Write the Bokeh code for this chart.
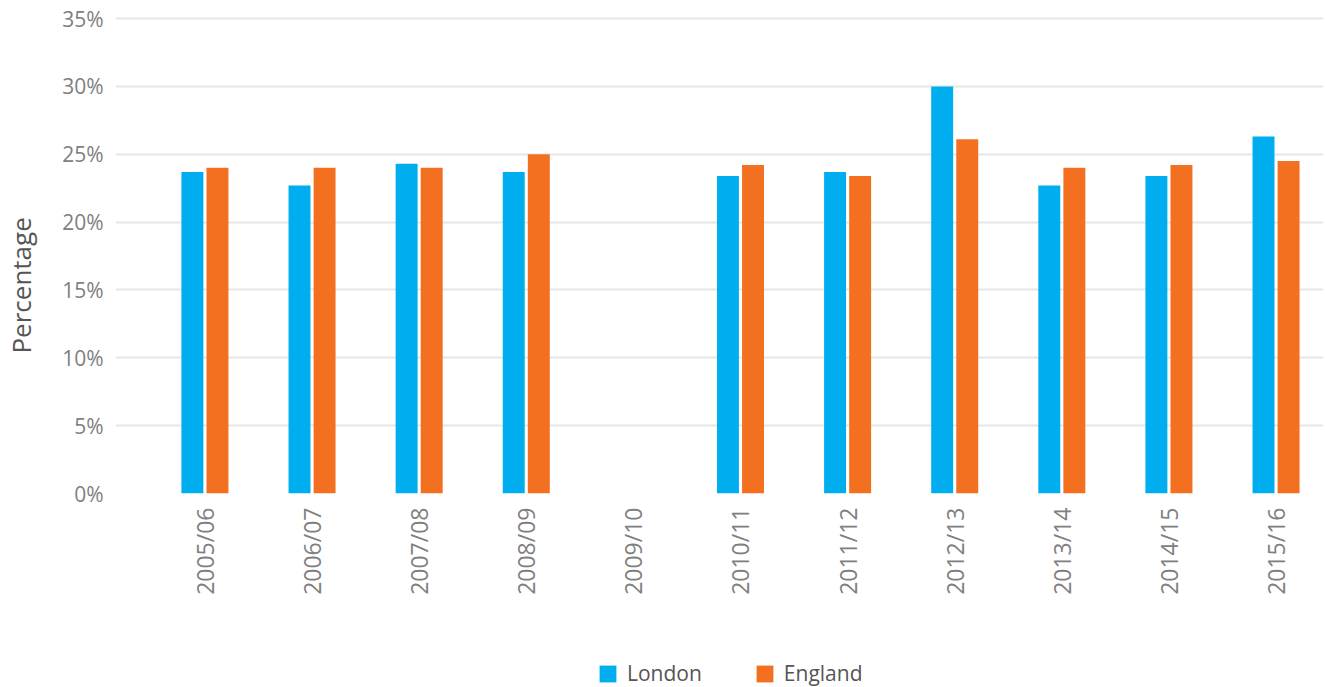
import math
from bokeh.plotting import figure
from bokeh.layouts import column
from bokeh.models import (Range1d, FixedTicker, PrintfTickFormatter, ColumnDataSource,
                          Legend, LegendItem)
from bokeh.transform import dodge
from bokeh.embed import file_html
from bokeh.resources import INLINE

years = ["2005/06", "2006/07", "2007/08", "2008/09", "2009/10", "2010/11",
         "2011/12", "2012/13", "2013/14", "2014/15", "2015/16"]
nan = float("nan")
london = [23.7, 22.7, 24.3, 23.7, nan, 23.4, 23.7, 30.0, 22.7, 23.4, 26.3]
england = [24.0, 24.0, 24.0, 25.0, nan, 24.2, 23.4, 26.1, 24.0, 24.2, 24.5]
y_ticks = [0, 5, 10, 15, 20, 25, 30, 35]
series_names = ["London", "England"]
series_fields = ["london", "england"]
series_colors = ["#00AEEF", "#F37021"]

FONT = "Open Sans"

src = ColumnDataSource(dict(x=list(range(len(years))), london=london, england=england))

p = figure(width=1325, height=640,
           x_range=Range1d(-0.835, 10.443), y_range=Range1d(0, 35.15),
           output_backend="svg", toolbar_location=None,
           min_border_left=114, min_border_right=2, min_border_top=16, min_border_bottom=147)
p.outline_line_color = None
p.background_fill_color = "white"
p.border_fill_color = "white"

offsets = [-0.117, 0.117]
for field, col, off in zip(series_fields, series_colors, offsets):
    p.vbar(x=dodge("x", off), top=field, width=0.205, source=src,
           fill_color=col, line_color=None)

# y axis
p.yaxis.ticker = FixedTicker(ticks=y_ticks)
p.yaxis.formatter = PrintfTickFormatter(format="%d%%")
p.yaxis.axis_label = "Percentage" + "\u00a0" * 9
p.yaxis.axis_label_text_font = FONT
p.yaxis.axis_label_text_font_size = "26px"
p.yaxis.axis_label_text_font_style = "normal"
p.yaxis.axis_label_text_color = "#555555"
p.yaxis.axis_label_standoff = 20
p.yaxis.major_label_text_font = FONT
p.yaxis.major_label_text_font_size = "21px"
p.yaxis.major_label_text_color = "#808080"
p.yaxis.major_label_standoff = 12

# x axis
p.xaxis.ticker = FixedTicker(ticks=list(range(len(years))))
p.xaxis.major_label_overrides = {i: y for i, y in enumerate(years)}
p.xaxis.major_label_orientation = math.pi / 2
p.xaxis.major_label_text_font = FONT
p.xaxis.major_label_text_font_size = "23px"
p.xaxis.major_label_text_color = "#808080"
p.xaxis.major_label_standoff = 14

for ax in (p.xaxis, p.yaxis):
    ax.axis_line_color = None
    ax.major_tick_line_color = None
    ax.minor_tick_line_color = None
    ax.major_tick_out = 0
    ax.major_tick_in = 0

p.xgrid.grid_line_color = None
p.ygrid.grid_line_color = "#e6e6e6"
p.ygrid.grid_line_width = 2

# legend strip below the chart (series renderers kept out of its visible range)
lf = figure(width=1325, height=47, x_range=Range1d(-0.835, 10.443), y_range=Range1d(1000, 1001),
            output_backend="svg", toolbar_location=None,
            x_axis_type=None, y_axis_type=None,
            min_border_left=0, min_border_right=0, min_border_top=0, min_border_bottom=0)
lf.outline_line_color = None
lf.xgrid.visible = False
lf.ygrid.visible = False
items = []
for name, field, col, off in zip(series_names, series_fields, series_colors, offsets):
    r = lf.vbar(x=dodge("x", off), top=field, width=0.205, source=src,
                fill_color=col, line_color=None)
    items.append(LegendItem(label=name, renderers=[r]))

legend = Legend(items=items, location=(482, 0), orientation="horizontal",
                glyph_width=21, glyph_height=21, label_height=21,
                label_text_font=FONT, label_text_font_size="21px",
                label_text_color="#555555", label_standoff=9, spacing=52,
                padding=0, margin=0, border_line_color=None,
                background_fill_alpha=0)
lf.add_layout(legend, "center")

layout = column(p, lf, spacing=0)
open("out.html", "w").write(file_html(layout, INLINE))
